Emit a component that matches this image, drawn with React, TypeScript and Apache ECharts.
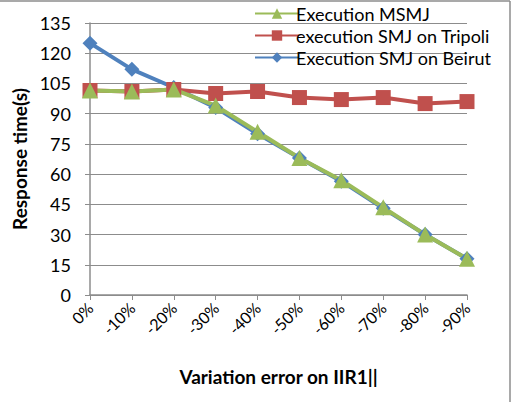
import React, { useEffect, useRef } from "react";
import * as echarts from "echarts";

const categories = ["0%", "-10%", "-20%", "-30%", "-40%", "-50%", "-60%", "-70%", "-80%", "-90%"];
const msmj = [101.5, 101, 102, 94, 81, 68, 57, 43.5, 30, 18];
const tripoli = [101.5, 101, 102, 100, 101, 98, 97, 98, 95, 96];
const beirut = [125, 112, 103, 93, 80, 68, 56.5, 43, 30, 18];

const FONT = "Lato, 'Open Sans', sans-serif";
const GRID_COLOR = "#8c8c8c";

export default function App() {
  const ref = useRef<HTMLDivElement>(null);

  useEffect(() => {
    if (!ref.current) return;
    const chart = echarts.init(ref.current, undefined, { renderer: "svg" });
    chart.setOption({
      animation: false,
      backgroundColor: "#ffffff",
      textStyle: { fontFamily: FONT },
      grid: { left: 90, right: 46, top: 23, bottom: 107 },
      legend: {
        orient: "vertical",
        left: 254,
        top: 0,
        padding: [4, 0, 0, 0],
        itemWidth: 44,
        itemHeight: 13,
        itemGap: 3,
        data: ["Execution MSMJ", "execution SMJ on Tripoli", "Execution SMJ on Beirut"],
        textStyle: { fontFamily: FONT, fontSize: 18, lineHeight: 19, color: "#000", padding: [0, 0, 0, -8] },
      },
      xAxis: {
        type: "category",
        data: categories,
        boundaryGap: false,
        axisLine: { lineStyle: { color: GRID_COLOR, width: 1.5 } },
        axisTick: { show: true, alignWithLabel: true, length: 5, lineStyle: { color: GRID_COLOR } },
        axisLabel: { rotate: 45, fontSize: 16, color: "#000", margin: 10, fontFamily: FONT },
        name: "Variation error on IIR1||",
        nameLocation: "middle",
        nameGap: 72,
        nameTextStyle: { fontWeight: "bold", fontSize: 19, color: "#000", fontFamily: FONT },
      },
      yAxis: {
        type: "value",
        min: 0,
        max: 135,
        interval: 15,
        axisLine: { show: true, lineStyle: { color: GRID_COLOR, width: 1.5 } },
        axisTick: { show: true, length: 5, lineStyle: { color: GRID_COLOR } },
        splitLine: { lineStyle: { color: GRID_COLOR, width: 1.2 } },
        axisLabel: { fontSize: 18, color: "#000", margin: 19, fontFamily: FONT },
        name: "Response time(s)",
        nameLocation: "middle",
        nameGap: 55,
        nameTextStyle: { fontWeight: "bold", fontSize: 19, color: "#000", fontFamily: FONT },
      },
      series: [
        {
          name: "Execution SMJ on Beirut",
          type: "line",
          data: beirut,
          symbol: "diamond",
          symbolSize: 15,
          color: "#4F81BD",
          lineStyle: { width: 4 },
        },
        {
          name: "execution SMJ on Tripoli",
          type: "line",
          data: tripoli,
          symbol: "rect",
          symbolSize: 15,
          color: "#C0504D",
          lineStyle: { width: 4 },
        },
        {
          name: "Execution MSMJ",
          type: "line",
          data: msmj,
          symbol: "triangle",
          symbolSize: 16,
          color: "#9BBB59",
          lineStyle: { width: 4 },
        },
      ],
      graphic: [
        { type: "line", shape: { x1: 0, y1: 1, x2: 510, y2: 1 }, style: { stroke: "#8c8c8c", lineWidth: 1.5 } },
        { type: "line", shape: { x1: 510, y1: 1, x2: 510, y2: 402 }, style: { stroke: "#8c8c8c", lineWidth: 1.5 } },
      ],
    });
    return () => chart.dispose();
  }, []);

  return <div ref={ref} style={{ width: 513, height: 402, position: "fixed", left: 0, top: 0 }} />;
}
